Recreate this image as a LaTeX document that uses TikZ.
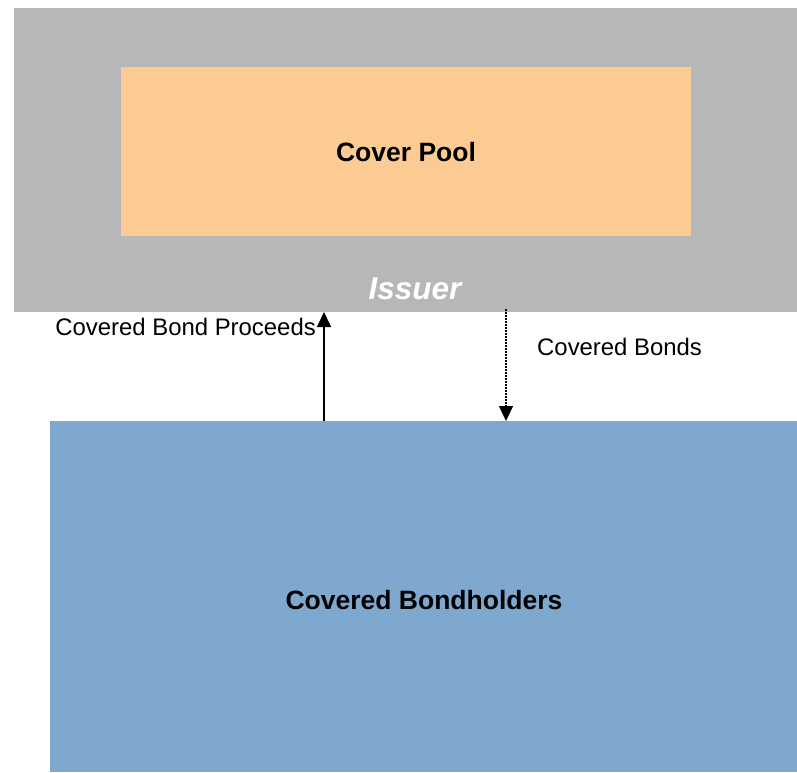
\documentclass[tikz,border=0pt]{standalone}
\usepackage{fontspec}
\setmainfont{Liberation Sans}
\usetikzlibrary{arrows.meta}
\definecolor{issuergray}{HTML}{B6B7B9}
\definecolor{poolorange}{HTML}{FCCB93}
\definecolor{holderblue}{HTML}{7FA8CE}
\tikzset{
  panel/.style={draw=none, inner sep=0pt, anchor=north west},
  flowtip/.style={-{Triangle[length=15pt,width=14pt]}, line width=1.6pt},
  flowlabel/.style={font=\fontsize{23.9}{26}\selectfont, inner sep=0pt, text=black},
  boxtitle/.style={font=\bfseries\fontsize{26.5}{30}\selectfont, inner sep=0pt},
}
\begin{document}
\begin{tikzpicture}[x=1pt,y=-1pt]
\useasboundingbox (0,0) rectangle (797,772);
% issuer frame with the cover pool inside
\node[panel, fill=issuergray, minimum width=783pt, minimum height=304pt] (issuer) at (14,8) {};
\node[panel, fill=poolorange, minimum width=570pt, minimum height=169pt] (pool) at (121,67) {};
\node[boxtitle] (pooltxt) at (406,152) {Cover Pool};
\node[font=\bfseries\itshape\fontsize{31.5}{34}\selectfont, text=white, inner sep=0pt] (issuertxt) at (415,289) {Issuer};
% bondholders
\node[panel, fill=holderblue, minimum width=747pt, minimum height=351pt] (holders) at (50,421) {};
\node[boxtitle] (holderstxt) at (424,600) {Covered Bondholders};
% flows between holders and issuer
\coordinate (upfoot) at (324,421);
\coordinate (uphead) at (324,312);
\coordinate (dnfoot) at (506,309);
\coordinate (dnhead) at (506,421);
\draw[flowtip] (upfoot) -- (uphead);
\draw[flowtip, line width=1.2pt, dash pattern=on 1.5pt off 1.5pt] (dnfoot) -- (dnhead);
\node[flowlabel, anchor=east] (proceeds) at (316,327) {Covered Bond Proceeds};
\node[flowlabel, anchor=west] (bonds) at (537,347) {Covered Bonds};
\end{tikzpicture}
\end{document}
